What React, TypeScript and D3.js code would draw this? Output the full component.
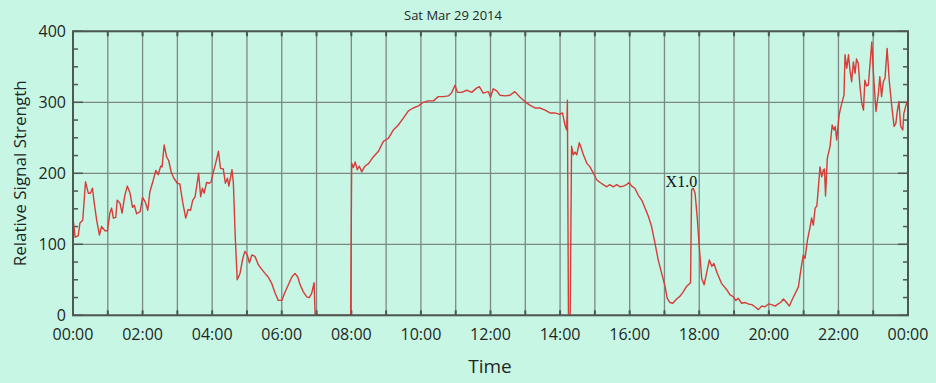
import React from "react";
import * as d3 from "d3";

const title = "Sat Mar 29 2014";
const xLabel = "Time";
const yLabel = "Relative Signal Strength";

const hours = [
  0, 0.06, 0.15, 0.2, 0.28, 0.36, 0.44, 0.5, 0.56, 0.6, 0.68, 0.76, 0.82, 0.92, 0.99,
  1.06, 1.11, 1.16, 1.23, 1.27, 1.35, 1.41, 1.49, 1.56, 1.64, 1.71, 1.76, 1.83, 1.93,
  2.0, 2.08, 2.15, 2.21, 2.31, 2.38, 2.45, 2.52, 2.56, 2.62, 2.69, 2.75, 2.82, 2.9,
  3.0, 3.07, 3.15, 3.24, 3.31, 3.38, 3.44, 3.51, 3.61, 3.67, 3.72, 3.77, 3.84, 3.92, 3.97,
  4.03, 4.1, 4.18, 4.24, 4.32, 4.38, 4.44, 4.48, 4.57, 4.61, 4.66, 4.72, 4.8, 4.88, 4.94,
  5.01, 5.07, 5.14, 5.23, 5.33, 5.42, 5.52, 5.61, 5.71, 5.81, 5.9,
  6.0, 6.09, 6.19, 6.29, 6.38, 6.46, 6.52, 6.62, 6.72, 6.79, 6.86, 6.93, 6.96,
  7.98, 8.01, 8.06, 8.11, 8.17, 8.23, 8.3, 8.39, 8.5, 8.63, 8.78, 8.92,
  9.06, 9.21, 9.35, 9.5, 9.64, 9.78, 9.93,
  10.07, 10.21, 10.36, 10.5, 10.64, 10.79, 10.88, 10.98,
  11.05, 11.17, 11.32, 11.46, 11.6, 11.68, 11.79, 11.94,
  12.0, 12.08, 12.18, 12.27, 12.42, 12.56, 12.7, 12.85, 12.99,
  13.13, 13.28, 13.42, 13.57, 13.71, 13.85, 13.99,
  14.07, 14.14, 14.19, 14.21, 14.24, 14.29, 14.33, 14.38, 14.43, 14.48, 14.55, 14.59, 14.67, 14.77, 14.86, 14.96,
  15.05, 15.15, 15.24, 15.34, 15.43, 15.53, 15.63, 15.72, 15.82, 15.91, 15.98,
  16.06, 16.15, 16.25, 16.35, 16.44, 16.54, 16.63, 16.73, 16.82, 16.92,
  17.02, 17.08, 17.16, 17.24, 17.35, 17.45, 17.54, 17.64, 17.75, 17.78, 17.83, 17.88, 17.94,
  18.0, 18.07, 18.14, 18.21, 18.29, 18.36, 18.42, 18.52, 18.64, 18.79, 18.88, 18.98,
  19.05, 19.12, 19.22, 19.32, 19.41, 19.51, 19.6, 19.7, 19.8, 19.89, 19.99,
  20.08, 20.18, 20.27, 20.34, 20.42, 20.51, 20.59, 20.69, 20.78, 20.85, 20.92, 20.99,
  21.04, 21.11, 21.18, 21.23, 21.28, 21.33, 21.38, 21.42, 21.47, 21.52, 21.57, 21.6, 21.63, 21.68, 21.76, 21.82, 21.87, 21.91, 21.95,
  22.02, 22.06, 22.11, 22.16, 22.19, 22.24, 22.29, 22.33, 22.38, 22.43, 22.48, 22.52, 22.57, 22.62, 22.67, 22.72, 22.76, 22.81, 22.86, 22.91, 22.96,
  23.0, 23.05, 23.08, 23.15, 23.19, 23.24, 23.29, 23.34, 23.4, 23.46, 23.53, 23.6, 23.65, 23.69, 23.74, 23.79, 23.85, 23.88, 23.93, 23.98, 24.0,
];

const signal = [
  137, 110, 112, 130, 134, 188, 172, 172, 179, 162, 134, 113, 125, 119, 119,
  144, 151, 137, 138, 162, 158, 144, 169, 182, 172, 152, 155, 143, 146,
  166, 159, 148, 174, 191, 204, 198, 210, 209, 240, 223, 218, 202, 193,
  186, 185, 160, 137, 149, 148, 162, 167, 200, 167, 179, 172, 187, 186, 188,
  201, 214, 231, 207, 206, 186, 193, 182, 205, 186, 115, 50, 59, 80, 90,
  85, 74, 85, 83, 71, 65, 59, 54, 45, 31, 21,
  21, 32, 43, 54, 59, 54, 44, 33, 26, 25, 31, 46, 0,
  0, 214, 208, 216, 205, 210, 202, 210, 214, 223, 231, 245,
  249, 261, 268, 278, 288, 292, 295,
  300, 302, 302, 308, 308, 309, 313, 324,
  314, 314, 317, 314, 320, 322, 313, 315,
  307, 319, 316, 310, 309, 310, 315, 307, 301,
  296, 292, 292, 289, 285, 285, 283,
  285, 268, 261, 303, 0, 0, 238, 226, 230, 226, 243, 238, 226, 214, 209, 200,
  191, 187, 184, 181, 184, 181, 184, 181, 182, 184, 187,
  182, 179, 169, 162, 151, 139, 125, 101, 78, 59,
  40, 24, 18, 17, 23, 27, 33, 41, 46, 177, 179, 172, 139,
  97, 52, 43, 59, 78, 69, 73, 59, 45, 36, 29, 26,
  21, 24, 17, 18, 16, 15, 12, 8, 13, 12, 16,
  15, 13, 16, 18, 23, 18, 13, 24, 33, 40, 64, 85,
  80, 106, 123, 137, 127, 151, 154, 177, 209, 195, 205, 206, 168, 221, 238, 268, 261, 266, 247,
  282, 291, 301, 310, 367, 348, 367, 346, 329, 357, 341, 361, 355, 322, 299, 289, 331, 323, 324, 355, 385,
  346, 308, 287, 313, 336, 308, 329, 334, 376, 331, 296, 266, 270, 287, 301, 266, 261, 284, 294, 301, 300,
];

const xTickHours = [0, 2, 4, 6, 8, 10, 12, 14, 16, 18, 20, 22, 24];
const xTickLabels = ["00:00", "02:00", "04:00", "06:00", "08:00", "10:00", "12:00", "14:00", "16:00", "18:00", "20:00", "22:00", "00:00"];
const xGridHours = [0, 1, 2, 3, 4, 5, 6, 7, 8, 9, 10, 11, 12, 13, 14, 15, 16, 17, 18, 19, 20, 21, 22, 23, 24];
const yTicks = [0, 100, 200, 300, 400];
const yMinorTicks = [25, 50, 75, 125, 150, 175, 225, 250, 275, 325, 350, 375];

const annotationLabel = "X1.0";
const annotationHour = 17.78;
const annotationValue = 179;

const W = 936;
const H = 383;
const L = 73;
const R = 908;
const T = 31.3;
const B = 315.3;

const BG = "#c8f6e5";
const FRAME = "#4d5853";
const GRID = "#7d8984";
const TEXT = "#1e2823";
const LINE = "#d63c38";
const FONT = "'Open Sans', sans-serif";

export default function App() {
  const x = d3.scaleLinear().domain([0, 24]).range([L, R]);
  const y = d3.scaleLinear().domain([0, 400]).range([B, T]);
  const pts = hours.map((h, i) => [h, signal[i]] as [number, number]);
  const path = d3
    .line<[number, number]>()
    .x((d) => x(d[0]))
    .y((d) => y(d[1]))(pts) as string;

  return (
    <div style={{ position: "fixed", left: 0, top: 0 }}>
      <svg width={W} height={H} style={{ display: "block" }}>
        <rect x={0} y={0} width={W} height={H} fill={BG} />
        <text x={453} y={20} textAnchor="middle" fontFamily={FONT} fontSize={13} fill={TEXT}>
          {title}
        </text>
        {/* grid */}
        {xGridHours.map((h) => (
          <line key={"vx" + h} x1={x(h)} x2={x(h)} y1={T} y2={B} stroke={GRID} strokeWidth={1.3} />
        ))}
        {yTicks.map((v) => (
          <line key={"hy" + v} x1={L} x2={R} y1={y(v)} y2={y(v)} stroke={GRID} strokeWidth={1.3} />
        ))}
        {/* ticks */}
        {xGridHours.map((h) => (
          <g key={"tx" + h}>
            <line x1={x(h)} x2={x(h)} y1={B} y2={B - 5} stroke={FRAME} strokeWidth={2} />
            <line x1={x(h)} x2={x(h)} y1={T} y2={T + 5} stroke={FRAME} strokeWidth={2} />
          </g>
        ))}
        {yMinorTicks.map((v) => (
          <g key={"my" + v}>
            <line x1={L} x2={L + 5} y1={y(v)} y2={y(v)} stroke={FRAME} strokeWidth={1.5} />
            <line x1={R} x2={R - 5} y1={y(v)} y2={y(v)} stroke={FRAME} strokeWidth={1.5} />
          </g>
        ))}
        {yTicks.map((v) => (
          <g key={"My" + v}>
            <line x1={L} x2={L + 10} y1={y(v)} y2={y(v)} stroke={FRAME} strokeWidth={1.5} />
            <line x1={R} x2={R - 10} y1={y(v)} y2={y(v)} stroke={FRAME} strokeWidth={1.5} />
          </g>
        ))}
        {/* data */}
        <path d={path} fill="none" stroke={LINE} strokeWidth={1.4} strokeLinejoin="round" />
        {/* frame */}
        <rect x={L} y={T} width={R - L} height={B - T} fill="none" stroke={FRAME} strokeWidth={2} />
        {/* annotation */}
        <text
          x={x(annotationHour) - 26}
          y={y(annotationValue) - 1.5}
          fontFamily="'Liberation Serif', 'Times New Roman', serif"
          fontSize={16}
          fill="#111"
        >
          {annotationLabel}
        </text>
        {/* axis labels */}
        {xTickHours.map((h, i) => (
          <text key={"lx" + h} x={x(h)} y={340} textAnchor="middle" fontFamily={FONT} fontSize={16} fill={TEXT}>
            {xTickLabels[i]}
          </text>
        ))}
        {yTicks.map((v) => (
          <text key={"ly" + v} x={66} y={y(v) + 5.7} textAnchor="end" fontFamily={FONT} fontSize={16} fill={TEXT}>
            {String(v)}
          </text>
        ))}
        <text x={490} y={373} textAnchor="middle" fontFamily={FONT} fontSize={19} fill={TEXT}>
          {xLabel}
        </text>
        <text
          transform={`translate(26, ${(T + B) / 2}) rotate(-90)`}
          textAnchor="middle"
          fontFamily={FONT}
          fontSize={17}
          fill={TEXT}
        >
          {yLabel}
        </text>
      </svg>
    </div>
  );
}
